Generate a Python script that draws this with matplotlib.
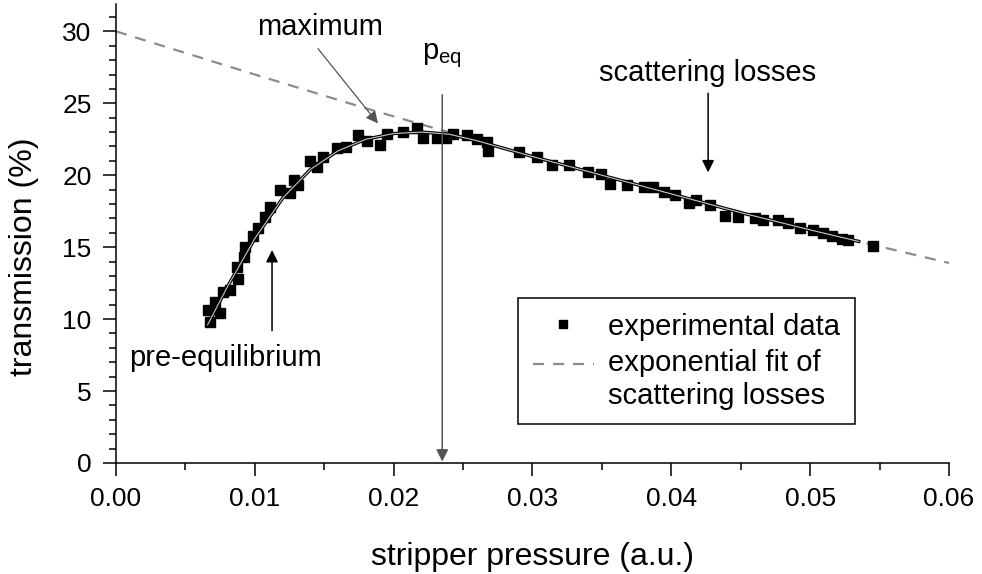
import matplotlib.pyplot as plt
from matplotlib.ticker import MultipleLocator, FormatStrFormatter

plt.rcParams['font.family'] = ['Liberation Sans', 'DejaVu Sans']
plt.rcParams['mathtext.default'] = 'regular'

# measured transmission vs stripper pressure
data_x = [0.0066, 0.0068, 0.0071, 0.0075, 0.0077, 0.0082, 0.0087, 0.0088, 0.0092, 0.0093,
          0.0099, 0.0102, 0.0107, 0.0111, 0.0118, 0.0125, 0.0128, 0.0131, 0.0140, 0.0145,
          0.0149, 0.0159, 0.0166, 0.0174, 0.0181, 0.0190, 0.0195, 0.0207, 0.0217, 0.0221,
          0.0231, 0.0238, 0.0243, 0.0253, 0.0260, 0.0267, 0.0268, 0.0290, 0.0303, 0.0314,
          0.0326, 0.0340, 0.0349, 0.0356, 0.0368, 0.0380, 0.0387, 0.0395, 0.0403, 0.0413,
          0.0418, 0.0428, 0.0439, 0.0448, 0.0460, 0.0466, 0.0477, 0.0484, 0.0493, 0.0502,
          0.0509, 0.0516, 0.0523, 0.0527, 0.0545]
data_y = [10.6, 9.8, 11.2, 10.4, 11.9, 12.0, 13.6, 12.8, 14.3, 15.0,
          15.8, 16.3, 17.1, 17.8, 19.0, 18.75, 19.65, 19.3, 21.0, 20.6,
          21.25, 21.9, 21.95, 22.8, 22.4, 22.1, 22.9, 23.0, 23.3, 22.6,
          22.6, 22.6, 22.9, 22.8, 22.55, 22.3, 21.7, 21.6, 21.25, 20.7,
          20.7, 20.2, 20.1, 19.4, 19.3, 19.2, 19.2, 18.8, 18.6, 18.05,
          18.3, 17.9, 17.2, 17.1, 17.0, 16.9, 16.9, 16.7, 16.3, 16.2,
          16.0, 15.8, 15.6, 15.5, 15.1]

# smooth curve through the data
smooth_x = [0.0066, 0.0080, 0.0100, 0.0120, 0.0140, 0.0160, 0.0180, 0.0200, 0.0220,
            0.0240, 0.0260, 0.0300, 0.0350, 0.0400, 0.0450, 0.0500, 0.0535]
smooth_y = [9.6, 12.2, 15.6, 18.4, 20.4, 21.7, 22.5, 22.9, 23.0,
            22.85, 22.4, 21.3, 20.0, 18.7, 17.4, 16.2, 15.4]

# exponential fit of scattering losses
fit_x = [0.000, 0.010, 0.018, 0.030, 0.040, 0.050, 0.060]
fit_y = [30.0, 27.0, 24.65, 21.3, 18.7, 16.2, 13.9]

p_eq = 0.0235

fig = plt.figure(figsize=(9.82, 5.74), dpi=100)
ax = fig.add_axes([0.1181, 0.1934, 0.8483, 0.7996])

ax.plot(fit_x, fit_y, color='#8c8c8c', lw=1.6, ls=(0, (5, 4)), zorder=2,
        label='exponential fit of\nscattering losses')
ax.plot(data_x, data_y, ls='none', marker='s', ms=6.5, color='black', zorder=3,
        label='experimental data')
ax.plot(smooth_x, smooth_y, color='black', lw=2.4, zorder=4)
ax.plot(smooth_x, smooth_y, color='#c8c8c8', lw=0.8, zorder=5)

ax.set_xlim(0, 0.06)
ax.set_ylim(0, 31.9)
ax.xaxis.set_major_locator(MultipleLocator(0.01))
ax.xaxis.set_minor_locator(MultipleLocator(0.005))
ax.xaxis.set_major_formatter(FormatStrFormatter('%.2f'))
ax.yaxis.set_major_locator(MultipleLocator(5))
ax.yaxis.set_minor_locator(MultipleLocator(1))
ax.tick_params(which='major', direction='out', length=9.5, width=1.1, labelsize=19, pad=8)
ax.tick_params(which='minor', direction='out', length=5, width=1.1)
for s in ['top', 'right']:
    ax.spines[s].set_visible(False)
for s in ['left', 'bottom']:
    ax.spines[s].set_linewidth(1.1)

ax.set_xlabel('stripper pressure (a.u.)', fontsize=23, labelpad=22)
ax.set_ylabel('transmission (%)', fontsize=23)
ax.yaxis.set_label_coords(-0.093, 0.449)

# annotations
ax.annotate('', xy=(0.01887, 23.6), xytext=(0.01455, 28.8),
            arrowprops=dict(arrowstyle='-|>', color='#555555', lw=0.9,
                            mutation_scale=18, shrinkA=0, shrinkB=0), zorder=6)
ax.text(0.0147, 30.3, 'maximum', fontsize=21, ha='center', va='center')

ax.annotate('', xy=(p_eq, 0.1), xytext=(p_eq, 25.6),
            arrowprops=dict(arrowstyle='-|>', color='#555555', lw=1.1,
                            mutation_scale=18, shrinkA=0, shrinkB=0), zorder=6)
ax.text(p_eq, 28.3, '$p_{eq}$', fontsize=21, ha='center', va='center')

ax.annotate('', xy=(0.04265, 20.2), xytext=(0.04265, 25.7),
            arrowprops=dict(arrowstyle='-|>', color='black', lw=1.1,
                            mutation_scale=18, shrinkA=0, shrinkB=0), zorder=6)
ax.text(0.0426, 27.1, 'scattering losses', fontsize=21, ha='center', va='center')

ax.annotate('', xy=(0.01124, 14.8), xytext=(0.01124, 9.2),
            arrowprops=dict(arrowstyle='-|>', color='black', lw=1.1,
                            mutation_scale=18, shrinkA=0, shrinkB=0), zorder=6)
ax.text(0.00785, 7.3, 'pre-equilibrium', fontsize=21, ha='center', va='center')

handles, labels = ax.get_legend_handles_labels()
leg = ax.legend(handles[::-1], labels[::-1], loc='upper left',
                bbox_to_anchor=(0.4826, 0.3595), borderaxespad=0, fontsize=21,
                frameon=True, fancybox=False, edgecolor='black', framealpha=1,
                handlelength=2.1, labelspacing=0.3, borderpad=0.5,
                handletextpad=0.5, markerscale=0.8)
leg.get_frame().set_linewidth(1.1)

# put the dashed handle next to the first line of its two-line label
fit_handle = leg.get_lines()[1]
fit_handle.set_ydata([y + 12 for y in fit_handle.get_ydata()])

fig.savefig('out.png', dpi=100)
